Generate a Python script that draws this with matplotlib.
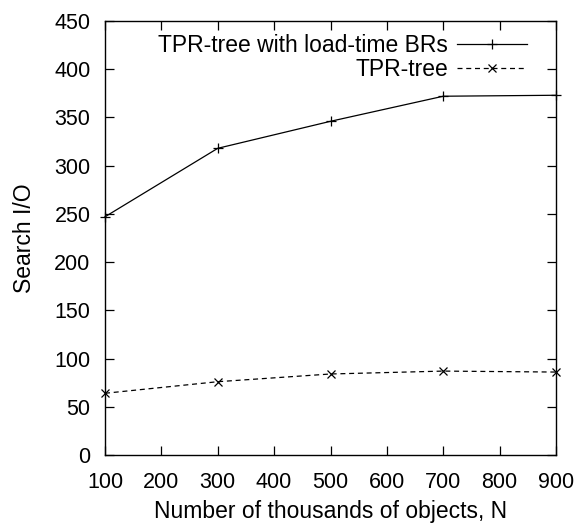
import matplotlib
matplotlib.use("Agg")
import matplotlib.pyplot as plt

plt.rcParams['font.family'] = ['Liberation Sans', 'DejaVu Sans']

x_vals = [100, 300, 500, 700, 900]
tpr_load = [247, 318, 346, 372, 373]
tpr = [64, 76, 84, 87, 86]
series_labels = ["TPR-tree with load-time BRs", "TPR-tree"]
x_ticks = [100, 200, 300, 400, 500, 600, 700, 800, 900]
y_ticks = [0, 50, 100, 150, 200, 250, 300, 350, 400, 450]

fig = plt.figure(figsize=(5.77, 5.25), dpi=100)
ax = fig.add_axes([105/577, 1-455/525, (556-105)/577, (455-21)/525])

ax.plot(x_vals, tpr_load, color='black', lw=0.9, ls='-', marker='+',
        ms=7, mew=0.9, label=series_labels[0], clip_on=False)
ax.plot(x_vals, tpr, color='black', lw=0.9, ls=(0, (4, 3)), marker='x',
        ms=6, mew=0.9, label=series_labels[1], clip_on=False)

ax.set_xlim(100, 900)
ax.set_ylim(0, 450)
ax.set_xticks(x_ticks)
ax.set_yticks(y_ticks)
ax.tick_params(direction='in', length=6.5, width=0.9, top=True, right=True,
               labelsize=15.5)
ax.tick_params(axis='x', pad=12)
ax.tick_params(axis='y', pad=10.5)
for s in ax.spines.values():
    s.set_linewidth(1.0)

ax.set_xlabel("Number of thousands of objects, N", fontsize=16.5, labelpad=5)
ax.set_ylabel("Search I/O", fontsize=16.5, labelpad=13)

leg = ax.legend(loc='upper right', bbox_to_anchor=(1.0, 1.0 + 16/434),
                frameon=False, markerfirst=False,
                fontsize=16.5, handlelength=3.05, numpoints=1,
                borderaxespad=0.85, borderpad=0.4, labelspacing=0.05,
                handletextpad=0.4)
for t in leg.get_texts():
    t.set_ha('right')
leg._legend_box.align = 'right'

fig.savefig("out.png", dpi=100)
